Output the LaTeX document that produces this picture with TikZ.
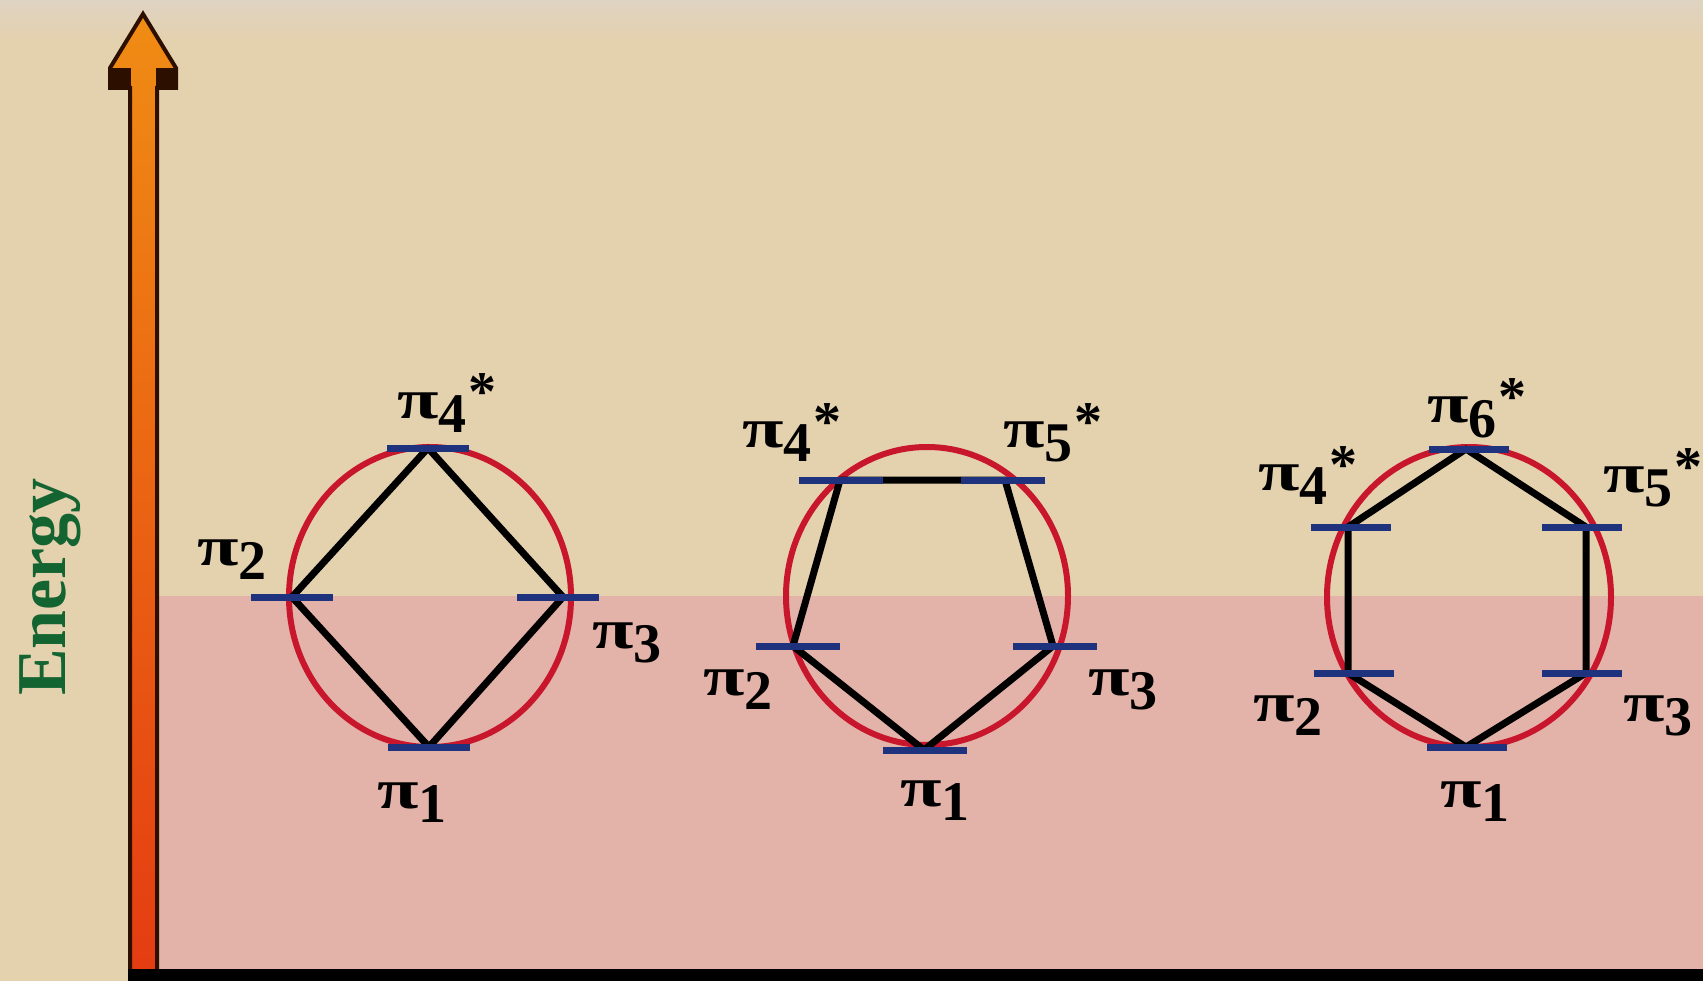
\documentclass[tikz,border=0pt]{standalone}
\usepackage{fontspec}
\setmainfont{Liberation Serif}
\usepackage{graphicx}
\definecolor{tanbg}{RGB}{228,209,174}
\definecolor{tantop}{RGB}{223,211,195}
\definecolor{pinkbg}{RGB}{227,178,168}
\definecolor{ringred}{RGB}{200,22,45}
\definecolor{levelblue}{RGB}{30,50,125}
\definecolor{engreen}{RGB}{20,100,50}
\definecolor{arrtop}{RGB}{240,140,20}
\definecolor{arrbot}{RGB}{228,60,18}
\definecolor{arrline}{RGB}{45,15,0}
\newcommand{\pilab}[2]{\scalebox{1.35}[1]{π}\raisebox{-14pt}{#1}#2}
\newcommand{\pistar}{\hspace{2pt}\raisebox{7pt}{*}}
\tikzset{
  ring/.style={draw=ringred, line width=6pt},
  bond/.style={draw=black, line width=7pt, line join=round},
  level/.style={draw=levelblue, line width=7pt},
  plab/.style={anchor=base west, inner sep=0pt, font=\fontsize{56}{56}\selectfont\bfseries},
}
\begin{document}
\begin{tikzpicture}[x=1pt,y=-1pt]
\useasboundingbox (0,0) rectangle (1703,981);
% background
\fill[tanbg] (0,0) rectangle (1703,981);
\shade[top color=tantop, bottom color=tanbg] (0,0) rectangle (1703,40);
\fill[pinkbg] (157,596) rectangle (1703,975);
% energy arrow
\shade[top color=arrtop, bottom color=arrbot, draw=arrline, line width=4pt, line join=miter]
  (143,14) -- (110,68) -- (110,88) -- (130,88) -- (130,975) -- (157,975) -- (157,88) -- (176,88) -- (176,68) -- cycle;
\fill[arrline] (108,68) rectangle (131,90);
\fill[arrline] (156,68) rectangle (178,90);
\fill[black] (128,969) rectangle (1703,981);
\node[rotate=90, text=engreen, font=\fontsize{70}{70}\selectfont\bfseries] (energy) at (50,587) {Energy};

% ---------- diagram 1: square ----------
\coordinate (c1) at (430,597);
\coordinate (a1) at (428,448);
\coordinate (a2) at (292,597);
\coordinate (a3) at (429,747);
\coordinate (a4) at (563,597);
\draw[ring] (c1) ellipse [x radius=141, y radius=150];
\draw[bond] (a1) -- (a2) -- (a3) -- (a4) -- cycle;
\foreach \v/\s in {a1/0,a2/0,a3/0,a4/-5}{
  \draw[level] ([xshift=-41pt+\s pt]\v) -- ([xshift=41pt+\s pt]\v);
}
\node[plab] (s4) at (397,418) {\pilab{4}{\pistar}};
\node[plab] (s2) at (197,565) {\pilab{2}{}};
\node[plab] (s3) at (592,648) {\pilab{3}{}};
\node[plab] (s1) at (377,808) {\pilab{1}{}};

% ---------- diagram 2: pentagon ----------
\coordinate (c2) at (927,596);
\coordinate (b1) at (924,750);
\coordinate (b2) at (793,646);
\coordinate (b4) at (840,480);
\coordinate (b5) at (1005,480);
\coordinate (b3) at (1053,646);
\draw[ring] (c2) ellipse [x radius=141, y radius=149];
\draw[bond] (b1) -- (b2) -- (b4) -- (b5) -- (b3) -- cycle;
\foreach \v/\s in {b1/1,b2/5,b4/1,b5/-2,b3/2}{
  \draw[level] ([xshift=-42pt+\s pt]\v) -- ([xshift=42pt+\s pt]\v);
}
\node[plab] (p4) at (742,447) {\pilab{4}{\pistar}};
\node[plab] (p5) at (1003,447) {\pilab{5}{\pistar}};
\node[plab] (p2) at (703,695) {\pilab{2}{}};
\node[plab] (p3) at (1088,695) {\pilab{3}{}};
\node[plab] (p1) at (900,806) {\pilab{1}{}};

% ---------- diagram 3: hexagon ----------
\coordinate (c3) at (1469,597);
\coordinate (h6) at (1466,449);
\coordinate (h4) at (1348,527);
\coordinate (h2) at (1348,673);
\coordinate (h1) at (1466,747);
\coordinate (h3) at (1586,673);
\coordinate (h5) at (1586,527);
\draw[ring] (c3) ellipse [x radius=142, y radius=150];
\draw[bond] (h6) -- (h4) -- (h2) -- (h1) -- (h3) -- (h5) -- cycle;
\foreach \v/\s in {h6/3,h4/3,h2/6,h1/1,h3/-4,h5/-4}{
  \draw[level] ([xshift=-40pt+\s pt]\v) -- ([xshift=40pt+\s pt]\v);
}
\node[plab] (q6) at (1427,423) {\pilab{6}{\pistar}};
\node[plab] (q4) at (1258,490) {\pilab{4}{\pistar}};
\node[plab] (q5) at (1603,492) {\pilab{5}{\pistar}};
\node[plab] (q2) at (1253,721) {\pilab{2}{}};
\node[plab] (q3) at (1623,721) {\pilab{3}{}};
\node[plab] (q1) at (1440,807) {\pilab{1}{}};
\end{tikzpicture}
\end{document}
